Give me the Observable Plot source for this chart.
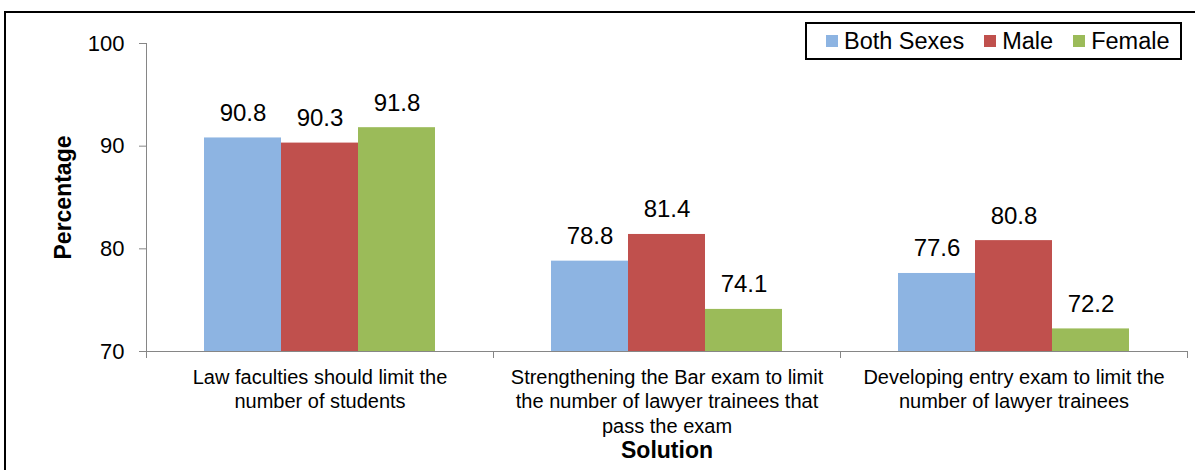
<!DOCTYPE html>
<html>
<head>
<meta charset="utf-8">
<script src="https://cdn.jsdelivr.net/npm/d3@7"></script>
<script src="https://cdn.jsdelivr.net/npm/@observablehq/plot@0.6"></script>
<style>
  html, body { margin: 0; padding: 0; background: #fff; }
  #wrap { position: relative; width: 1195px; height: 470px; overflow: hidden; font-family: "Liberation Sans", Arial, sans-serif; }
  #frame { position: absolute; left: 4px; top: 11px; width: 1300px; height: 600px; border-top: 2px solid #000; border-left: 2px solid #000; box-sizing: border-box; }
  #chart { position: absolute; left: 0; top: 0; }
  #legend { position: absolute; left: 805px; top: 22px; width: 377px; height: 38px; border: 2px solid #000; box-sizing: border-box; background: #fff;
            display: flex; align-items: center; padding-left: 19px; font-size: 23.5px; color: #000; white-space: nowrap; }
  #legend .item { display: flex; align-items: center; margin-right: 20px; }
  #legend .sw { width: 12px; height: 12px; margin-right: 6px; }
  svg [aria-label="y-axis label"], svg [aria-label="fx-axis label"] { font-weight: bold; font-size: 23px; }
</style>
</head>
<body>
<div id="wrap">
  <div id="frame"></div>
  <div id="chart"></div>
  <div id="legend"></div>
</div>
<script>
const categories = [
  "Law faculties should limit the\nnumber of students",
  "Strengthening the Bar exam to limit\nthe number of lawyer trainees that\npass the exam",
  "Developing entry exam to limit the\nnumber of lawyer trainees"
];
const series = ["Both Sexes", "Male", "Female"];
const bothSexes = [90.8, 78.8, 77.6];
const male = [90.3, 81.4, 80.8];
const female = [91.8, 74.1, 72.2];
const colors = ["#8DB4E2", "#C0504D", "#9BBB59"];
const yTicks = [70, 80, 90, 100];

const seriesValues = [bothSexes, male, female];
const data = [];
categories.forEach((c, i) => {
  series.forEach((s, j) => data.push({category: c, series: s, value: seriesValues[j][i]}));
});

const W = 1195, H = 470;
const mTop = 43, mBottom = 119, mLeft = 145, mRight = 8;
const plotH = H - mTop - mBottom;
const gray = "#868686";

const chart = Plot.plot({
  width: W,
  height: H,
  marginTop: mTop,
  marginBottom: mBottom,
  marginLeft: mLeft,
  marginRight: mRight,
  style: {fontFamily: '"Liberation Sans", Arial, sans-serif', color: "#000", background: "transparent"},
  fx: {domain: categories, padding: 0},
  x: {domain: series, paddingInner: 0, paddingOuter: 0.75, axis: null},
  y: {domain: [70, 100]},
  color: {domain: series, range: colors},
  marks: [
    Plot.barY(data, {fx: "category", x: "series", y1: () => 70, y2: "value", fill: "series"}),
    Plot.text(data, {fx: "category", x: "series", y: "value", text: d => d.value.toFixed(1),
      lineAnchor: "bottom", dy: -17, fontSize: 24, fill: "#000"}),
    Plot.ruleY([70], {stroke: gray, strokeWidth: 1}),
    Plot.frame({anchor: "left", stroke: gray, insetTop: plotH, insetBottom: -6}),
    Plot.frame({anchor: "right", stroke: gray, insetTop: plotH, insetBottom: -6}),
    Plot.frame({anchor: "left", stroke: gray, facetAnchor: "left"}),
    Plot.axisY({ticks: yTicks, tickSize: 7, tickPadding: 15, fontSize: 22, stroke: gray, fill: "#000",
      label: "Percentage", labelAnchor: "center", labelArrow: "none", labelOffset: 92}),
    Plot.axisFx({anchor: "bottom", tickSize: 0, tickPadding: 15, fontSize: 20, lineHeight: 1.22, fill: "#000",
      label: "Solution", labelAnchor: "center", labelArrow: "none", labelOffset: 106})
  ]
});
document.getElementById("chart").appendChild(chart);

const legend = document.getElementById("legend");
series.forEach((s, i) => {
  const item = document.createElement("div");
  item.className = "item";
  const sw = document.createElement("div");
  sw.className = "sw";
  sw.style.background = colors[i];
  const lab = document.createElement("span");
  lab.textContent = s;
  item.appendChild(sw);
  item.appendChild(lab);
  legend.appendChild(item);
});
</script>
</body>
</html>
